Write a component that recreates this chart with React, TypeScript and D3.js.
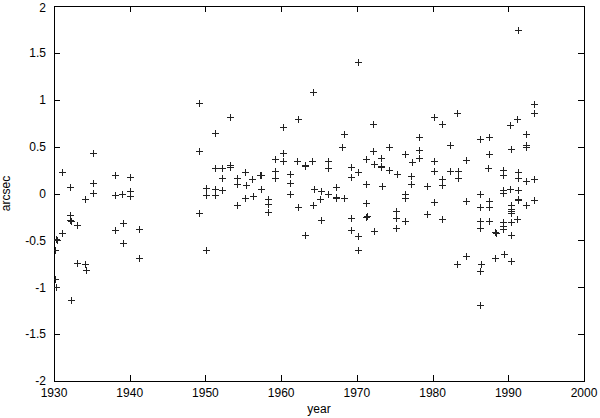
import React, { useEffect, useRef } from "react";
import * as d3 from "d3";

const years = [
  1930.2, 1930.4, 1930.1, 1930.1, 1930.3, 1931.1, 1931.1, 1932.1, 1932.1, 1932.1,
  1932.2, 1932.2, 1933.1, 1933.1, 1934.1, 1934.1, 1934.2, 1935.1, 1935.1, 1935.2,
  1938.1, 1938.1, 1938.1, 1939.0, 1939.1, 1939.1, 1940.1, 1940.1, 1940.1, 1941.2,
  1941.2,
  1949.1, 1949.1, 1949.1, 1950.1, 1950.1, 1950.1, 1951.2, 1951.2, 1951.2, 1951.2,
  1952.2, 1952.2, 1952.2, 1953.2, 1953.2, 1953.2, 1954.2, 1954.2, 1954.2, 1955.2,
  1955.3, 1955.2, 1956.2, 1956.3, 1957.2, 1957.3, 1957.3, 1958.2, 1958.2, 1958.2,
  1959.2, 1959.2, 1959.2, 1960.2, 1960.2, 1960.2, 1961.2, 1961.2, 1961.2, 1962.2,
  1962.1, 1962.2, 1963.1, 1963.2, 1963.1, 1964.25, 1964.1, 1964.3, 1964.2, 1965.2,
  1965.1, 1965.2,
  1966.2, 1966.2, 1966.2, 1967.3, 1967.3, 1967.2, 1968.3, 1968.1, 1968.3, 1969.2,
  1969.2, 1969.2, 1969.2, 1970.2, 1970.2, 1970.2, 1970.2, 1971.25, 1971.2, 1971.2,
  1971.3, 1971.2, 1972.1, 1972.1, 1972.2, 1972.2, 1973.2, 1973.2, 1973.25, 1973.3,
  1974.2, 1974.2, 1975.3, 1975.2, 1975.2, 1975.2, 1976.3, 1976.3, 1976.3, 1976.4,
  1977.3, 1977.2, 1977.2, 1978.25, 1978.25, 1978.25, 1979.3, 1979.3, 1980.2, 1980.2,
  1980.2, 1980.2,
  1981.25, 1981.25, 1981.2, 1981.25, 1982.3, 1982.3, 1983.2, 1983.3, 1983.3, 1983.2,
  1984.4, 1984.4, 1984.4, 1984.35, 1986.2, 1986.3, 1986.3, 1986.3, 1986.3, 1986.35,
  1986.3, 1986.2, 1987.4, 1987.4, 1987.3, 1987.4, 1987.4, 1987.4, 1988.3, 1988.35,
  1988.3, 1989.25, 1989.3, 1989.3, 1989.3, 1989.25, 1989.25, 1989.25, 1989.4, 1990.2,
  1990.3, 1990.2, 1990.3, 1990.3, 1990.3, 1990.3, 1990.3, 1990.3, 1990.3, 1991.3,
  1991.15, 1991.3, 1991.3, 1991.3, 1991.3, 1991.3, 1991.2, 1992.4, 1992.4, 1992.4,
  1992.35, 1992.4, 1993.4, 1993.4, 1993.4, 1993.4,
];

// residuals in arcsec, same order as years
const arcsec = [
  -0.48, -0.5, -0.6, -0.91, -1.0, 0.23, -0.42, 0.07, -0.23, -0.28,
  -0.29, -1.135, -0.337, -0.74, -0.056, -0.75, -0.82, 0.43, 0.115, 0.01,
  0.2, -0.02, -0.387, -0.01, -0.31, -0.53, 0.18, 0.03, -0.024, -0.38,
  -0.69,
  0.965, 0.449, -0.209, 0.054, -0.017, -0.6, 0.645, 0.268, 0.045, -0.017,
  0.268, 0.168, 0.04, 0.815, 0.307, 0.28, 0.168, 0.097, -0.12, 0.225,
  0.086, -0.05, 0.157, -0.027, 0.193, 0.2, 0.047, -0.063, -0.117, -0.198,
  0.367, 0.239, 0.168, 0.712, 0.435, 0.342, 0.21, 0.115, -0.006, 0.794,
  0.349, -0.145, 0.3, 0.29, -0.447, 1.085, 0.349, 0.05, -0.127, 0.03,
  -0.06, -0.283,
  0.342, 0.27, -0.01, 0.072, -0.035, -0.05, 0.63, 0.5, -0.045, 0.28,
  0.171, -0.26, -0.39, 1.405, 0.228, -0.45, -0.604, 0.37, 0.104, -0.1,
  -0.245, -0.25, 0.744, 0.449, 0.317, -0.404, 0.378, 0.289, 0.283, 0.076,
  0.5, 0.246, 0.21, -0.188, -0.266, -0.369, 0.42, -0.01, -0.045, -0.295,
  0.335, 0.182, 0.1, 0.6, 0.467, 0.378, 0.076, -0.223, 0.815, 0.346,
  0.242, -0.092,
  0.744, 0.157, 0.093, -0.273, 0.52, 0.24, 0.854, 0.24, 0.168, -0.752,
  0.356, -0.078, -0.671, -0.665, 0.58, -0.003, -0.14, -0.298, -0.369, -0.752,
  -0.827, -1.187, 0.6, 0.417, 0.275, -0.078, -0.14, -0.298, -0.415, -0.42,
  -0.689, 0.246, 0.193, 0.033, 0.004, -0.309, -0.35, -0.38, -0.643, 0.73,
  0.47, 0.05, -0.127, -0.16, -0.19, -0.21, -0.305, -0.447, -0.724, 1.747,
  0.797, 0.228, 0.168, 0.04, -0.06, -0.07, -0.273, 0.637, 0.52, 0.5,
  0.136, -0.123, 0.957, 0.858, 0.154, -0.067,
];

const xTicks = [1930, 1940, 1950, 1960, 1970, 1980, 1990, 2000];
const yTicks = [-2, -1.5, -1, -0.5, 0, 0.5, 1, 1.5, 2];

const font = "'Liberation Sans', Arial, Helvetica, sans-serif";
const fontSize = 12;

const App = () => {
  const ref = useRef<SVGSVGElement>(null);

  useEffect(() => {
    document.body.style.margin = "0";
    const width = 600;
    const height = 418;
    const margin = { top: 6, right: 16, bottom: 37, left: 54 };

    const svg = d3.select(ref.current);
    svg.selectAll("*").remove();

    const xScale = d3
      .scaleLinear()
      .domain([1930, 2000])
      .range([margin.left, width - margin.right]);
    const yScale = d3
      .scaleLinear()
      .domain([-2, 2])
      .range([height - margin.bottom, margin.top]);

    const [x0, x1] = xScale.range();
    const [y0, y1] = yScale.range(); // y0 bottom, y1 top
    const tick = 6;

    // clip so crosses on the left edge get cut by the frame
    svg
      .append("defs")
      .append("clipPath")
      .attr("id", "plotclip")
      .append("rect")
      .attr("x", x0)
      .attr("y", y1)
      .attr("width", x1 - x0)
      .attr("height", y0 - y1);

    // ticks, pointing inward on all four sides
    const ticks = svg
      .append("g")
      .attr("stroke", "#000")
      .attr("stroke-width", 1)
      .attr("shape-rendering", "crispEdges");

    xTicks.forEach((t) => {
      const px = Math.round(xScale(t)) + 0.5;
      ticks.append("line").attr("x1", px).attr("x2", px).attr("y1", y0).attr("y2", y0 - tick);
      ticks.append("line").attr("x1", px).attr("x2", px).attr("y1", y1).attr("y2", y1 + tick);
    });
    yTicks.forEach((t) => {
      const py = Math.round(yScale(t)) + 0.5;
      ticks.append("line").attr("x1", x0).attr("x2", x0 + tick).attr("y1", py).attr("y2", py);
      ticks.append("line").attr("x1", x1).attr("x2", x1 - tick).attr("y1", py).attr("y2", py);
    });

    // frame
    svg
      .append("rect")
      .attr("x", x0 + 0.5)
      .attr("y", y1 + 0.5)
      .attr("width", x1 - x0)
      .attr("height", y0 - y1)
      .attr("fill", "none")
      .attr("stroke", "#000")
      .attr("stroke-width", 1)
      .attr("shape-rendering", "crispEdges");

    // tick labels
    svg
      .append("g")
      .selectAll("text")
      .data(xTicks)
      .enter()
      .append("text")
      .attr("x", (d) => xScale(d))
      .attr("y", 397)
      .attr("text-anchor", "middle")
      .attr("font-family", font)
      .attr("font-size", fontSize)
      .attr("fill", "#000")
      .text((d) => d);

    svg
      .append("g")
      .selectAll("text")
      .data(yTicks)
      .enter()
      .append("text")
      .attr("x", 46)
      .attr("y", (d) => yScale(d) + (d === 2 ? 1.5 : 0))
      .attr("dy", "0.36em")
      .attr("text-anchor", "end")
      .attr("font-family", font)
      .attr("font-size", fontSize)
      .attr("fill", "#000")
      .text((d) => d);

    // axis titles
    svg
      .append("text")
      .attr("x", (x0 + x1) / 2)
      .attr("y", 413)
      .attr("text-anchor", "middle")
      .attr("font-family", font)
      .attr("font-size", fontSize)
      .text("year");

    svg
      .append("text")
      .attr("transform", `translate(10,${(y0 + y1) / 2}) rotate(-90)`)
      .attr("text-anchor", "middle")
      .attr("font-family", font)
      .attr("font-size", fontSize)
      .text("arcsec");

    // data points as "+" marks
    const pts = years.map((yr, i) => ({ yr, v: arcsec[i] }));
    const s = 3;
    const marks = svg
      .append("g")
      .attr("clip-path", "url(#plotclip)")
      .attr("stroke", "#222")
      .attr("stroke-width", 1)
      .attr("shape-rendering", "crispEdges");

    marks
      .selectAll("path")
      .data(pts)
      .enter()
      .append("path")
      .attr("d", (d) => {
        const cx = Math.round(xScale(d.yr)) + 0.5;
        const cy = Math.round(yScale(d.v)) + 0.5;
        return `M${cx - s - 0.5},${cy}H${cx + s + 0.5}M${cx},${cy - s - 0.5}V${cy + s + 0.5}`;
      });
  }, []);

  return (
    <div>
      <svg ref={ref} width={600} height={418} style={{ display: "block", background: "#fff" }} />
    </div>
  );
};

export default App;
